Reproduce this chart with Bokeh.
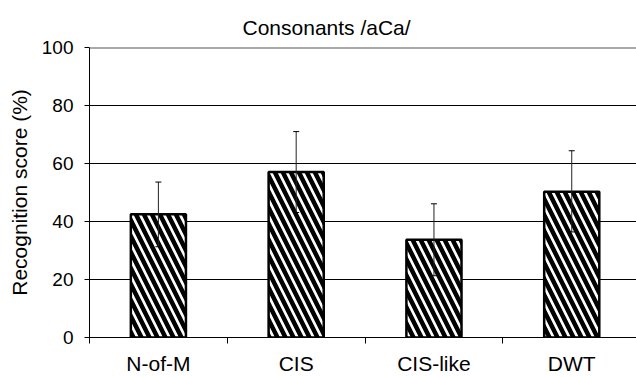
from bokeh.plotting import figure
from bokeh.models import (Range1d, FixedTicker, Whisker, TeeHead, ColumnDataSource, Span, Title)
from bokeh.embed import file_html
from bokeh.resources import INLINE

# ---- data ----
categories = ["N-of-M", "CIS", "CIS-like", "DWT"]
scores = [42.5, 57.1, 33.7, 50.3]
err_upper = [53.6, 71.0, 46.1, 64.4]
err_lower = [31.3, 43.1, 21.3, 36.4]
y_ticks = [0, 20, 40, 60, 80, 100]
title_text = "Consonants /aCa/"
y_label = "Recognition score (%)"

FONT = "Liberation Sans"

centers = [i + 0.5 for i in range(len(categories))]
source = ColumnDataSource(dict(x=centers, top=scores, upper=err_upper, lower=err_lower))

p = figure(width=636, height=377, output_backend="svg", toolbar_location=None,
           x_range=Range1d(0, 3.97), y_range=Range1d(0, 100),
           min_border_left=89, min_border_right=0, min_border_top=47, min_border_bottom=40)
p.background_fill_color = "white"
p.border_fill_color = "white"
p.outline_line_color = None

t = Title(text=title_text, align="left", offset=153, text_font=FONT, text_font_size="21px",
          text_font_style="normal", text_color="black", standoff=17)
p.add_layout(t, "above")

# grid
p.xgrid.visible = False
p.ygrid.ticker = FixedTicker(ticks=[20, 40, 60, 80])
p.ygrid.grid_line_color = "black"
p.ygrid.grid_line_width = 1
p.add_layout(Span(location=100, dimension="width", line_color="#555555", line_width=2))

# bars
p.vbar(x="x", top="top", width=0.4, source=source, fill_color="white",
       line_color="black", line_width=2.5, hatch_pattern="\\", hatch_color="black",
       hatch_scale=16, hatch_weight=4.5)

w = Whisker(source=source, base="x", upper="upper", lower="lower",
            line_color="#222222", line_width=1,
            upper_head=TeeHead(size=6, line_color="black", line_width=1),
            lower_head=TeeHead(size=6, line_color="black", line_width=1))
w.level = "annotation"
p.add_layout(w)

# y axis
ya = p.yaxis[0]
ya.ticker = FixedTicker(ticks=y_ticks, minor_ticks=[])
ya.axis_label = y_label
ya.axis_label_text_font = FONT
ya.axis_label_text_font_size = "21px"
ya.axis_label_text_font_style = "normal"
ya.axis_label_text_color = "black"
ya.axis_label_standoff = 8
ya.major_label_text_font = FONT
ya.major_label_text_font_size = "19px"
ya.major_label_text_color = "black"
ya.major_tick_out = 5
ya.major_tick_in = 0
ya.major_label_standoff = 11
ya.axis_line_color = "black"
ya.major_tick_line_color = "black"

# x axis
xa = p.xaxis[0]
xa.ticker = FixedTicker(ticks=centers, minor_ticks=[0, 1, 2, 3, 4])
xa.major_label_overrides = {c: lab for c, lab in zip(centers, categories)}
xa.major_label_text_font = FONT
xa.major_label_text_font_size = "21px"
xa.major_label_text_color = "black"
xa.major_tick_out = 0
xa.major_tick_in = 0
xa.minor_tick_out = 6
xa.minor_tick_in = 0
xa.minor_tick_line_color = "black"
xa.major_label_standoff = 8
xa.axis_line_color = "black"
xa.axis_line_width = 1

open("out.html", "w").write(file_html(p, INLINE))
